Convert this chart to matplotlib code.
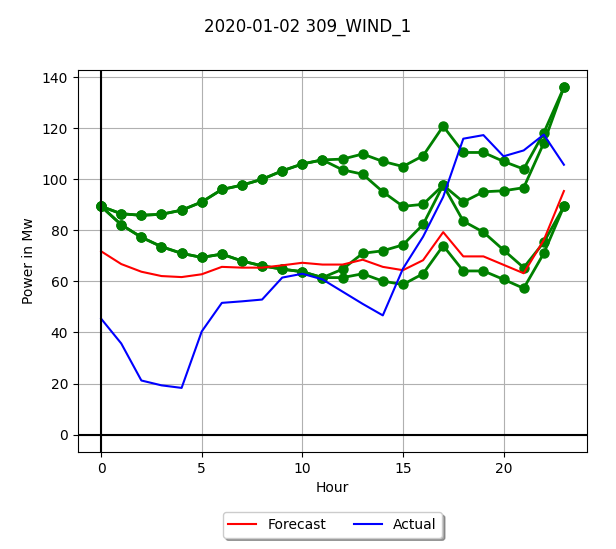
import matplotlib
matplotlib.use("Agg")
import matplotlib.pyplot as plt

hours = list(range(24))

forecast = [71.8, 66.8, 63.8, 62.1, 61.7, 62.8, 65.7, 65.4, 65.4, 66.3, 67.3, 66.6,
            66.6, 68.5, 65.7, 64.4, 68.3, 79.3, 69.8, 69.8, 66.5, 63.2, 76.2, 95.4]
actual = [45.4, 35.7, 21.2, 19.3, 18.3, 40.4, 51.6, 52.2, 52.9, 61.5, 63.0, 60.8,
          56.0, 51.2, 46.7, 65.0, 77.5, 93.1, 115.9, 117.3, 109.0, 111.3, 117.5, 105.7]

green_1 = [89.4, 86.5, 85.9, 86.3, 87.9, 91.1, 96.0, 97.7, 100.0, 103.3, 106.0, 107.6,
           107.9, 109.9, 107.0, 105.0, 109.2, 120.8, 110.5, 110.5, 107.0, 104.0, 118.2, 136.0]
green_2 = [89.4, 86.5, 85.9, 86.3, 87.9, 91.1, 96.0, 97.7, 100.0, 103.3, 106.0, 107.6,
           103.7, 102.0, 95.1, 89.4, 90.2, 97.7, 91.1, 95.1, 95.5, 96.7, 114.2, 136.0]
green_3 = [89.4, 82.2, 77.3, 73.6, 71.0, 69.4, 70.7, 68.0, 66.1, 64.8, 63.8, 61.5,
           64.8, 71.0, 72.0, 74.3, 82.3, 97.7, 83.6, 79.3, 72.3, 65.4, 75.3, 89.4]
green_4 = [89.4, 82.2, 77.3, 73.6, 71.0, 69.4, 70.7, 68.0, 66.1, 64.8, 63.8, 61.5,
           61.5, 63.0, 60.1, 58.8, 63.0, 74.0, 64.1, 64.1, 60.8, 57.3, 71.0, 89.4]

fig = plt.figure(figsize=(6.16, 5.49), dpi=100)
ax = fig.add_axes([0.1266, 0.1767, 0.8264, 0.6958])

for g in (green_1, green_2, green_3, green_4):
    ax.plot(hours, g, color="green", linewidth=2, marker="o", markersize=6.5)

ax.plot(hours, forecast, color="red", linewidth=1.5, label="Forecast")
ax.plot(hours, actual, color="blue", linewidth=1.5, label="Actual")

ax.axhline(0, color="black", linewidth=1.5)
ax.axvline(0, color="black", linewidth=1.5)

ax.grid(True)
ax.set_xlabel("Hour")
ax.set_ylabel("Power in Mw")
fig.suptitle("2020-01-02 309_WIND_1", fontsize=12, y=0.968)

handles, labels = ax.get_legend_handles_labels()
ax.legend(handles, labels, loc="upper center", bbox_to_anchor=(0.5, -0.14),
          ncol=2, fancybox=True, shadow=True)

fig.savefig("out.png", dpi=100)
